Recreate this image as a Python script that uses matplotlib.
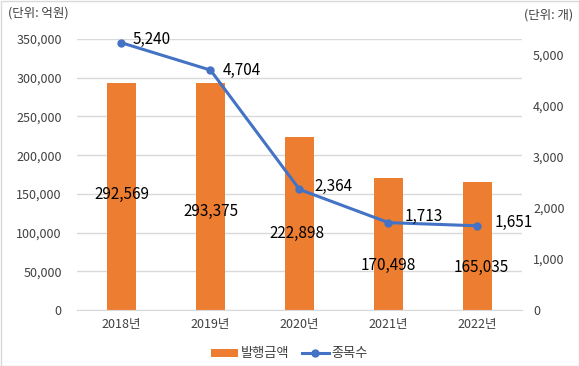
import matplotlib
matplotlib.use("Agg")
import matplotlib.pyplot as plt
from matplotlib.lines import Line2D
from matplotlib.patches import Patch, Rectangle

plt.rcParams['font.family'] = ['Noto Sans CJK KR', 'DejaVu Sans']

categories = ['2018년', '2019년', '2020년', '2021년', '2022년']
amounts = [292569, 293375, 222898, 170498, 165035]
counts = [5240, 4704, 2364, 1713, 1651]
left_ticks = [0, 50000, 100000, 150000, 200000, 250000, 300000, 350000]
right_ticks = [0, 1000, 2000, 3000, 4000, 5000]

bar_color = '#ED7D31'
line_color = '#4472C4'

W, H = 579, 366
fig = plt.figure(figsize=(W/100, H/100), dpi=100)
ax = fig.add_axes([77/W, 1-310/H, 445/W, 271/H])
ax2 = ax.twinx()

x = list(range(len(categories)))
ax.bar(x, amounts, width=0.32, color=bar_color, zorder=2)
ax.set_xlim(-0.5, 4.5)
ax.set_ylim(0, 350000)
ax.set_yticks(left_ticks)
ax.set_yticklabels([f'{v:,}' for v in left_ticks])
ax.grid(axis='y', color='#D9D9D9', linewidth=1, zorder=0)
ax.set_axisbelow(True)
for s in ['top', 'right', 'left']:
    ax.spines[s].set_visible(False)
ax.spines['bottom'].set_color('#D9D9D9')
ax.tick_params(axis='both', length=0, labelsize=9, colors='#404040')
ax.tick_params(axis='y', pad=11)
ax.tick_params(axis='x', pad=6)
ax.set_xticks(x)
ax.set_xticklabels(categories)

ax2.plot(x, counts, color=line_color, linewidth=2.2, marker='o', markersize=5, zorder=3)
ax2.set_ylim(0, 5314)
ax2.set_yticks(right_ticks)
ax2.set_yticklabels([f'{v:,}' for v in right_ticks])
for s in ['top', 'right', 'left', 'bottom']:
    ax2.spines[s].set_visible(False)
ax2.tick_params(axis='y', length=0, labelsize=9, colors='#404040', pad=8)

# bar labels (fraction of bar height for vertical placement)
bar_label_frac = [0.512, 0.432, 0.446, 0.341, 0.329]
bar_label_dx = [0.0, 0.0, -0.03, 0.0, 0.04]
for i, (v, f, dx) in enumerate(zip(amounts, bar_label_frac, bar_label_dx)):
    ax.text(i + dx, v * f, f'{v:,}', ha='center', va='center', fontsize=11,
            color='black', zorder=4)

# line labels offsets in pixels
line_offsets = [(11, 3), (12, 0), (15, 3), (16, 6), (17, 3)]
for i, (v, (dx, dy)) in enumerate(zip(counts, line_offsets)):
    ax2.annotate(f'{v:,}', (i, v), xytext=(dx, dy), textcoords='offset pixels',
                 ha='left', va='center', fontsize=11, color='black', zorder=5)

fig.text(8/W, 1-13/H, '(단위: 억원)', ha='left', va='center', fontsize=9, color='#404040')
fig.text(573/W, 1-15/H, '(단위: 개)', ha='right', va='center', fontsize=9, color='#404040')

handles = [Patch(facecolor=bar_color, edgecolor='none'),
           Line2D([0], [0], color=line_color, linewidth=2.2, marker='o', markersize=5)]
fig.legend(handles, ['발행금액', '종목수'], loc='center', bbox_to_anchor=(0.5, 1-354/H),
           ncol=2, frameon=False, fontsize=9.5, handlelength=2.0, handleheight=0.6,
           columnspacing=1.0, handletextpad=0.2, labelcolor='#404040')

fig.patches.append(Rectangle((0.5/W, 0.5/H), 1-1/W, 1-1/H, transform=fig.transFigure,
                             fill=False, edgecolor='#D9D9D9', linewidth=1))

fig.savefig('out.png', dpi=100)
